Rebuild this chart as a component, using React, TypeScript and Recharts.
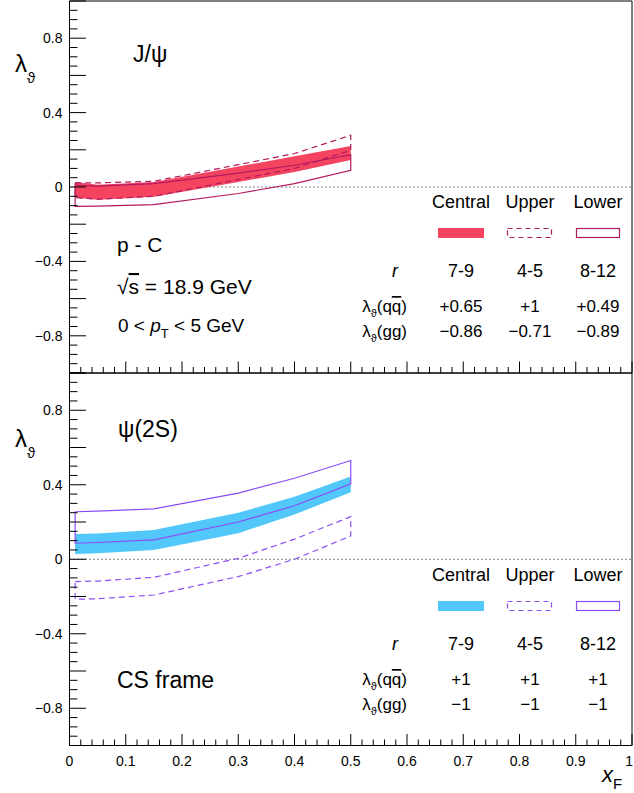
import React from 'react';
import { ComposedChart, Area, Line, XAxis, YAxis } from 'recharts';

// x_F nodes shared by every curve
const xF = [0.01, 0.05, 0.15, 0.3, 0.4, 0.5];

// J/psi panel
const jpsiCentralLo = [-0.058, -0.068, -0.052, 0.027, 0.08, 0.145];
const jpsiCentralHi = [0.027, 0.012, 0.027, 0.11, 0.165, 0.22];
const jpsiUpperLo = [-0.057, -0.066, -0.05, 0.04, 0.1, 0.197];
const jpsiUpperHi = [0.022, 0.022, 0.031, 0.12, 0.18, 0.278];
const jpsiLowerLo = [-0.104, -0.103, -0.095, -0.035, 0.018, 0.09];
const jpsiLowerHi = [0.009, 0.005, 0.018, 0.075, 0.117, 0.174];

// psi(2S) panel
const psiCentralLo = [0.028, 0.032, 0.05, 0.14, 0.24, 0.36];
const psiCentralHi = [0.136, 0.138, 0.157, 0.25, 0.335, 0.444];
const psiUpperLo = [-0.215, -0.212, -0.192, -0.093, 0.0, 0.125];
const psiUpperHi = [-0.12, -0.117, -0.097, 0.005, 0.108, 0.229];
const psiLowerLo = [0.086, 0.09, 0.104, 0.2, 0.287, 0.405];
const psiLowerHi = [0.255, 0.258, 0.27, 0.355, 0.435, 0.53];

const zeroLine = [{ x: 0, y: 0 }, { x: 1, y: 0 }];

// tick labels
const yLabelTicks = [0.8, 0.4, 0, -0.4, -0.8];
const xLabelTicks = [0, 0.1, 0.2, 0.3, 0.4, 0.5, 0.6, 0.7, 0.8, 0.9, 1];
const yTicks = Array.from({ length: 41 }, (_, i) => Math.round((-1 + i * 0.05) * 100) / 100);
const xTicks = Array.from({ length: 51 }, (_, i) => (i * 2) / 100);

// table
const columns = ['Central', 'Upper', 'Lower'];
const rValues = ['7-9', '4-5', '8-12'];
const jpsiQQ = ['+0.65', '+1', '+0.49'];
const jpsiGG = ['\u22120.86', '\u22120.71', '\u22120.89'];
const psiQQ = ['+1', '+1', '+1'];
const psiGG = ['\u22121', '\u22121', '\u22121'];

const W = 634;
const FONT = '"Liberation Sans", Arial, Helvetica, sans-serif';
const colX = [461, 530, 598];

const near = (v: number, step: number) => {
  const r = v / step;
  return Math.abs(r - Math.round(r)) < 1e-6;
};
const fmt = (v: number) => (v === 0 ? '0' : (v < 0 ? '\u2212' : '') + Math.abs(v).toString());

// box outline: upper curve forward, lower curve back, closed
const outline = (lo: number[], hi: number[]) => [
  ...xF.map((x, i) => ({ x, y: hi[i] })),
  ...xF.map((x, i) => ({ x, y: lo[i] })).reverse(),
  { x: xF[0], y: hi[0] },
];

const YTick = (props: any) => {
  const { x, y, payload } = props;
  const v = payload.value;
  const len = near(v, 0.2) ? 16.5 : 8;
  const lab = yLabelTicks.find((t) => Math.abs(t - v) < 1e-6);
  return (
    <g>
      <line x1={x} y1={y} x2={x + len} y2={y} stroke="#000" strokeWidth={1} />
      {lab !== undefined && (
        <text x={x - 7} y={y + 5} textAnchor="end" fontSize={14} fontFamily={FONT} fill="#000">
          {fmt(lab)}
        </text>
      )}
    </g>
  );
};

const makeXTick = (labels: boolean) => (props: any) => {
  const { x, y, payload } = props;
  const v = payload.value;
  const len = near(v, 0.1) ? 11.5 : 6;
  const lab = labels ? xLabelTicks.find((t) => Math.abs(t - v) < 1e-6) : undefined;
  const last = lab === 1;
  return (
    <g>
      <line x1={x} y1={y} x2={x} y2={y - len} stroke="#000" strokeWidth={1} />
      {lab !== undefined && (
        <text x={last ? x + 1 : x} y={y + 20} textAnchor={last ? 'end' : 'middle'} fontSize={14} fontFamily={FONT} fill="#000">
          {String(lab)}
        </text>
      )}
    </g>
  );
};

interface PanelProps {
  height: number;
  xAxisHeight: number;
  labels: boolean;
  cLo: number[];
  cHi: number[];
  uLo: number[];
  uHi: number[];
  lLo: number[];
  lHi: number[];
  bandColor: string;
  lineColor: string;
}

const Panel = (p: PanelProps) => {
  const band = xF.map((x, i) => ({ x, band: [p.cLo[i], p.cHi[i]] }));
  return (
    <ComposedChart width={W} height={p.height} data={band} margin={{ top: 0, right: 1, bottom: 0, left: 9.5 }}>
      <XAxis
        dataKey="x"
        type="number"
        domain={[0, 1]}
        ticks={xTicks}
        interval={0}
        tick={makeXTick(p.labels)}
        tickLine={false}
        tickSize={0}
        tickMargin={0}
        height={p.xAxisHeight}
        axisLine={{ stroke: '#000' }}
        allowDataOverflow
      />
      <XAxis xAxisId="top" orientation="top" type="number" domain={[0, 1]} tick={false} tickLine={false} height={1} axisLine={{ stroke: '#000' }} />
      <YAxis
        type="number"
        domain={[-1, 1]}
        ticks={yTicks}
        interval={0}
        tick={YTick}
        tickLine={false}
        tickSize={0}
        tickMargin={0}
        width={60}
        axisLine={{ stroke: '#000' }}
        allowDataOverflow
      />
      <YAxis yAxisId="right" orientation="right" type="number" domain={[-1, 1]} tick={false} tickLine={false} width={1} axisLine={{ stroke: '#000' }} />
      <Area data={zeroLine} dataKey="y" type="linear" stroke="#000" strokeWidth={1} strokeDasharray="1 3" fill="none" isAnimationActive={false} />
      <Area dataKey="band" type="linear" stroke="none" fill={p.bandColor} fillOpacity={1} isAnimationActive={false} />
      <Line data={outline(p.uLo, p.uHi)} dataKey="y" type="linear" stroke={p.lineColor} strokeWidth={1.2} strokeDasharray="6 4" dot={false} isAnimationActive={false} />
      <Line data={outline(p.lLo, p.lHi)} dataKey="y" type="linear" stroke={p.lineColor} strokeWidth={1.2} dot={false} isAnimationActive={false} />
    </ComposedChart>
  );
};

const Lambda = ({ x, y, size, sub }: { x: number; y: number; size: number; sub: number }) => (
  <>
    <tspan x={x} y={y} fontSize={size}>λ</tspan>
    <tspan fontSize={sub} dy={size * 0.45}>ϑ</tspan>
  </>
);

const Table = ({ dy, qq, gg, bandColor, lineColor }: { dy: number; qq: string[]; gg: string[]; bandColor: string; lineColor: string }) => (
  <g fontFamily={FONT} fill="#000">
    {columns.map((c, i) => (
      <text key={c} x={colX[i]} y={208 + dy} textAnchor="middle" fontSize={18}>{c}</text>
    ))}
    <rect x={438} y={228 + dy} width={46} height={10} fill={bandColor} />
    <rect x={507.5} y={228.5 + dy} width={44} height={9} fill="none" stroke={lineColor} strokeWidth={1.2} strokeDasharray="5 4" />
    <rect x={576.5} y={228.5 + dy} width={43} height={9} fill="none" stroke={lineColor} strokeWidth={1.2} />
    <text x={395} y={277 + dy} textAnchor="middle" fontSize={18} fontStyle="italic">r</text>
    {rValues.map((r, i) => (
      <text key={r} x={colX[i]} y={277 + dy} textAnchor="middle" fontSize={18}>{r}</text>
    ))}
    <text x={407} y={312 + dy} textAnchor="end" fontSize={17}>
      λ<tspan fontSize={11} dy={5}>ϑ</tspan>
      <tspan dy={-5}>(q</tspan>
      <tspan style={{ textDecoration: 'overline' }}>q</tspan>)
    </text>
    {qq.map((v, i) => (
      <text key={'q' + i} x={colX[i]} y={312 + dy} textAnchor="middle" fontSize={17}>{v}</text>
    ))}
    <text x={407} y={337 + dy} textAnchor="end" fontSize={17}>
      λ<tspan fontSize={11} dy={5}>ϑ</tspan>
      <tspan dy={-5}>(gg)</tspan>
    </text>
    {gg.map((v, i) => (
      <text key={'g' + i} x={colX[i]} y={337 + dy} textAnchor="middle" fontSize={17}>{v}</text>
    ))}
  </g>
);

export default function App() {
  const red = '#f5445f';
  const crimson = '#b3195f';
  const blue = '#52c7f9';
  const purple = '#8c4cf5';
  return (
    <div style={{ position: 'absolute', left: 0, top: 0, width: W, height: 793, background: '#fff' }}>
      <div style={{ position: 'absolute', left: 0, top: 0 }}>
        <Panel height={374} xAxisHeight={1} labels={false}
          cLo={jpsiCentralLo} cHi={jpsiCentralHi} uLo={jpsiUpperLo} uHi={jpsiUpperHi} lLo={jpsiLowerLo} lHi={jpsiLowerHi}
          bandColor={red} lineColor={crimson} />
      </div>
      <div style={{ position: 'absolute', left: 0, top: 372 }}>
        <Panel height={421} xAxisHeight={47.5} labels={true}
          cLo={psiCentralLo} cHi={psiCentralHi} uLo={psiUpperLo} uHi={psiUpperHi} lLo={psiLowerLo} lHi={psiLowerHi}
          bandColor={blue} lineColor={purple} />
      </div>
      <svg width={W} height={793} style={{ position: 'absolute', left: 0, top: 0, pointerEvents: 'none' }}>
        <g fontFamily={FONT} fill="#000">
          <text><Lambda x={15} y={72} size={24} sub={15} /></text>
          <text><Lambda x={15} y={447} size={24} sub={15} /></text>
          <text x={133} y={62} fontSize={23}>J/ψ</text>
          <text x={118} y={437} fontSize={23}>ψ(2S)</text>
          <text x={117} y={252} fontSize={21}>p - C</text>
          <text x={117} y={294} fontSize={21}>
            √<tspan style={{ textDecoration: 'overline' }}>s</tspan> = 18.9 GeV
          </text>
          <text x={118} y={332} fontSize={19}>
            0 &lt; <tspan fontStyle="italic">p</tspan>
            <tspan fontSize={13} dy={6}>T</tspan>
            <tspan dy={-6}> &lt; 5 GeV</tspan>
          </text>
          <text x={117} y={688} fontSize={23}>CS frame</text>
          <text x={602} y={782} fontSize={22} fontStyle="italic">x</text>
          <text x={613} y={789} fontSize={15}>F</text>
        </g>
        <Table dy={0} qq={jpsiQQ} gg={jpsiGG} bandColor={red} lineColor={crimson} />
        <Table dy={373} qq={psiQQ} gg={psiGG} bandColor={blue} lineColor={purple} />
      </svg>
    </div>
  );
}
